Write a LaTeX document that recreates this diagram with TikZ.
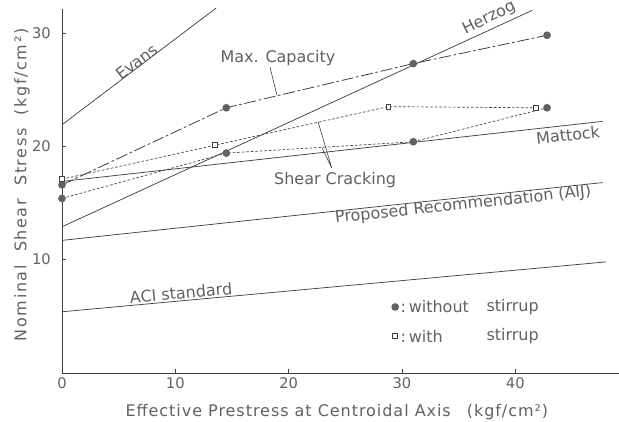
\documentclass[tikz,border=0pt]{standalone}
\usepackage{fontspec}
\setmainfont{DejaVu Sans}
\newfontfamily\xwide[LetterSpace=6]{DejaVu Sans}
\newfontfamily\ywide[LetterSpace=10]{DejaVu Sans}
\usetikzlibrary{shapes.geometric, arrows}
\definecolor{ink}{gray}{0.25}
\definecolor{txt}{gray}{0.38}
\tikzstyle{axisline} = [ink, line width=0.6pt]
\tikzstyle{theory} = [ink, line width=0.55pt]
\tikzstyle{maxcap} = [ink, line width=0.6pt, dash pattern=on 9pt off 2pt on 2pt off 2pt]
\tikzstyle{crack} = [ink, line width=0.5pt, dash pattern=on 2pt off 1.4pt]
\tikzstyle{leader} = [ink, line width=0.45pt]
\tikzstyle{lbl} = [txt, font=\fontsize{12}{14}\selectfont, inner sep=1pt]
\tikzstyle{ticklbl} = [txt, font=\fontsize{11}{13}\selectfont, inner sep=0pt]
\tikzstyle{nostirrup} = [circle, fill=black!62, inner sep=0pt, minimum size=5.8pt]
\tikzstyle{withstirrup} = [rectangle, draw=ink, fill=white, line width=0.5pt, inner sep=0pt, minimum size=3.6pt]

\begin{document}
\begin{tikzpicture}[x=8.5pt, y=8.5pt]
            \useasboundingbox (-5.47,-4.24) rectangle (49.15,32.91);

            % axes
            \coordinate (o) at (0,0);
            \coordinate (ytop) at (0,32.1);
            \coordinate (xend) at (49.15,0);
            \draw [axisline] (ytop) -- (o) -- (xend);
            \foreach \v in {10,20,30,40} \draw [axisline] (\v,0) -- (\v,0.35);
            \foreach \s in {10,20,30} \draw [axisline] (0,\s) -- (0.35,\s);
            \node [ticklbl] at (0,-0.88) (x0) {0};
            \foreach \v in {10,20,30,40} \node [ticklbl] at (\v,-0.88) (x\v) {\v};
            \foreach \s in {10,20,30} \node [ticklbl] at (-1.81,\s) (y\s) {\s};
            \node [lbl, font=\fontsize{12}{14}\xwide] at (24.26,-3.44) (xlbl) {Effective Prestress at Centroidal Axis\quad(kgf/cm²)};
            \node [lbl, font=\fontsize{12}{14}\ywide, rotate=90] at (-3.53,16.6) (ylbl) {Nominal\ \ Shear\ \ Stress\ \ (kgf/cm²)};

            % formulas
            \coordinate (ev0) at (0,21.9);   \coordinate (ev1) at (13.6,32.2);
            \coordinate (hz0) at (0,12.9);   \coordinate (hz1) at (41.5,32.0);
            \coordinate (mt0) at (0,16.9);   \coordinate (mt1) at (47.7,22.2);
            \coordinate (aij0) at (0,11.7);  \coordinate (aij1) at (47.7,16.8);
            \coordinate (aci0) at (0,5.4);   \coordinate (aci1) at (48.0,9.8);
            \draw [theory] (ev0) -- (ev1);
            \draw [theory] (hz0) -- (hz1);
            \draw [theory] (mt0) -- (mt1);
            \draw [theory] (aij0) -- (aij1);
            \draw [theory] (aci0) -- (aci1);

            % test results
            \coordinate (m1) at (0,16.6);    \coordinate (m2) at (14.5,23.4);
            \coordinate (m3) at (31.0,27.3); \coordinate (m4) at (42.8,29.8);
            \coordinate (c1) at (0,15.4);    \coordinate (c2) at (14.5,19.4);
            \coordinate (c3) at (31.0,20.4); \coordinate (c4) at (42.8,23.4);
            \coordinate (s1) at (0,17.1);    \coordinate (s2) at (13.5,20.1);
            \coordinate (s3) at (28.8,23.5); \coordinate (s4) at (41.8,23.4);
            \draw [maxcap] (m1) -- (m2) -- (m3) -- (m4);
            \draw [crack] (c1) -- (c2) -- (c3) -- (c4);
            \draw [crack] (s1) -- (s2) -- (s3) -- (s4);
            \foreach \p in {m1,m2,m3,m4,c1,c2,c3,c4} \node [nostirrup] at (\p) {};
            \foreach \p in {s1,s2,s3,s4} \node [withstirrup] at (\p) {};

            % labels
            \node [lbl, rotate=37] at (6.62,27.44) (evans) {Evans};
            \node [lbl, rotate=26] at (37.7,31.3) (herzog) {Herzog};
            \node [lbl, rotate=6] at (44.65,21.0) (mattock) {Mattock};
            \node [lbl, rotate=6] at (35.4,14.82) (aij) {Proposed Recommendation (AIJ)};
            \node [lbl, rotate=5] at (10.5,7.06) (aci) {ACI standard};
            \node [lbl] at (19.06,27.8) (maxlbl) {Max. Capacity};
            \node [lbl] at (24.1,17.03) (crlbl) {Shear Cracking};
            \coordinate (maxpt) at (18.97,24.5);
            \coordinate (crs) at (22.6,22.15);
            \coordinate (crc) at (22.94,19.88);
            \draw [leader] (18.35,27.0) -- (maxpt);
            \draw [leader] (crs) -- (23.8,18.1) -- (crc);

            % legend
            \node [nostirrup] at (29.4,5.82) (lg1) {};
            \node [lbl, anchor=west] at (29.75,5.82) (lg1t) {:\,without};
            \node [lbl, anchor=west] at (37.32,5.82) (lg1s) {stirrup};
            \node [withstirrup] at (29.4,3.26) (lg2) {};
            \node [lbl, anchor=west] at (29.75,3.26) (lg2t) {:\,with};
            \node [lbl, anchor=west] at (37.32,3.26) (lg2s) {stirrup};
\end{tikzpicture}
\end{document}
